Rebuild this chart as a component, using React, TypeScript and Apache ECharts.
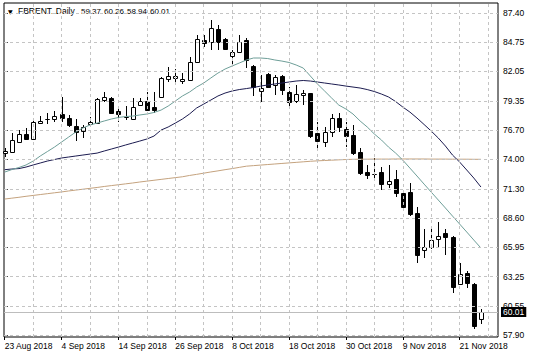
import React, { useEffect, useRef } from 'react';
import * as echarts from 'echarts';

const dateLabels = ['23 Aug 2018', '4 Sep 2018', '14 Sep 2018', '26 Sep 2018', '8 Oct 2018', '18 Oct 2018', '30 Oct 2018', '9 Nov 2018', '21 Nov 2018'];
const labelIdx = [0, 8, 16, 24, 32, 40, 48, 56, 64];
const gridIdx = [4, 8, 12, 16, 20, 24, 28, 32, 36, 40, 44, 48, 52, 56, 60, 64, 68];
const yTicks = [57.9, 60.55, 63.25, 65.95, 68.6, 71.3, 74.0, 76.7, 79.35, 82.05, 84.75, 87.4];

const opens = [74.60, 74.67, 75.58, 76.32, 75.86, 77.32, 77.69, 77.69, 78.15, 77.78,
  77.05, 76.59, 77.23, 77.32, 79.43, 79.61, 78.42, 77.87, 77.69, 78.97,
  79.34, 78.79, 79.71, 81.36, 81.45, 81.17, 81.26, 82.91, 84.93, 84.75,
  85.94, 85.02, 83.46, 83.83, 84.93, 82.55, 80.26, 81.81, 80.81, 81.63,
  80.16, 79.34, 79.89, 80.07, 76.41, 75.58, 76.50, 77.78, 76.77, 76.22,
  74.67, 72.83, 72.65, 72.83, 71.73, 72.19, 70.91, 71.00, 69.08, 65.69,
  65.96, 66.70, 67.25, 66.88, 62.57, 63.58, 62.57, 59.37];
const closes = [74.80, 75.77, 76.32, 75.86, 77.42, 77.51, 77.72, 77.97, 77.78, 77.14,
  76.50, 76.96, 77.42, 79.52, 79.71, 78.24, 78.15, 77.85, 78.79, 79.34,
  78.51, 78.51, 81.45, 81.63, 81.63, 81.36, 82.91, 85.02, 84.65, 86.03,
  84.75, 84.10, 83.83, 84.75, 83.10, 80.62, 80.53, 80.62, 81.54, 80.35,
  79.25, 79.98, 80.07, 76.13, 75.68, 76.50, 77.78, 76.96, 76.13, 74.57,
  72.74, 72.56, 72.62, 71.73, 72.01, 70.91, 69.63, 68.99, 65.23, 65.96,
  66.60, 66.97, 66.88, 62.30, 63.49, 62.66, 58.72, 60.01];
const lows = [74.21, 74.60, 75.49, 75.77, 75.77, 77.23, 77.23, 77.42, 77.42, 76.96,
  75.68, 75.95, 77.14, 77.30, 79.25, 78.15, 77.42, 77.60, 77.60, 78.88,
  78.42, 78.24, 79.60, 81.08, 80.81, 80.90, 81.17, 82.82, 84.29, 84.01,
  84.01, 84.01, 82.64, 83.74, 82.36, 79.80, 79.25, 80.55, 79.89, 79.89,
  78.61, 79.16, 78.97, 75.95, 75.03, 75.12, 76.04, 76.50, 75.12, 74.39,
  72.56, 72.19, 72.28, 71.18, 71.37, 70.54, 69.54, 68.80, 64.50, 64.95,
  65.78, 65.96, 65.23, 61.75, 62.48, 62.21, 58.45, 58.94];
const highs = [75.03, 76.41, 76.68, 76.87, 77.60, 77.97, 78.24, 78.42, 79.71, 78.06,
  77.69, 77.14, 77.87, 79.61, 80.16, 79.71, 78.88, 78.88, 79.61, 79.61,
  80.16, 80.16, 81.54, 82.45, 82.27, 81.90, 83.37, 85.39, 85.39, 86.76,
  86.30, 85.11, 84.01, 85.39, 85.11, 82.64, 81.72, 81.90, 81.72, 81.72,
  80.62, 80.81, 80.35, 80.10, 77.42, 76.96, 78.15, 78.24, 77.42, 77.14,
  75.03, 73.48, 74.12, 73.29, 73.48, 73.02, 71.00, 71.83, 69.63, 67.61,
  67.61, 68.25, 67.61, 66.95, 64.50, 63.76, 62.66, 60.26];

const maFast = [72.83, 73.06, 73.25, 73.48, 73.84, 74.30, 74.71, 75.12, 75.58, 76.04,
  76.50, 76.87, 77.14, 77.32, 77.51, 77.69, 77.83, 77.92, 77.96, 78.06,
  78.15, 78.29, 78.51, 78.88, 79.34, 79.80, 80.16, 80.62, 80.99, 81.45,
  81.90, 82.27, 82.55, 82.82, 83.10, 83.28, 83.28, 83.23, 83.10, 83.00,
  82.87, 82.64, 82.36, 81.63, 80.90, 80.26, 79.61, 78.97, 78.61, 78.15,
  77.51, 76.96, 76.32, 75.77, 75.12, 74.57, 73.93, 73.20, 72.47, 71.73,
  71.00, 70.27, 69.54, 68.80, 68.07, 67.34, 66.60, 65.87];
const maMid = [73.05, 73.11, 73.15, 73.29, 73.48, 73.66, 73.84, 73.98, 74.12, 74.21,
  74.30, 74.39, 74.48, 74.57, 74.76, 74.94, 75.12, 75.31, 75.49, 75.67,
  75.86, 76.13, 76.68, 76.96, 77.32, 77.69, 78.15, 78.70, 79.06, 79.43,
  79.80, 80.07, 80.26, 80.39, 80.48, 80.58, 80.71, 80.81, 80.90, 80.99,
  81.08, 81.17, 81.22, 81.17, 81.08, 80.99, 80.90, 80.81, 80.71, 80.62,
  80.53, 80.39, 80.21, 79.98, 79.71, 79.29, 78.79, 78.33, 77.78, 77.19,
  76.59, 75.95, 75.22, 74.39, 73.75, 73.02, 72.28, 71.46];
const maSlow = [70.36, 70.44, 70.52, 70.61, 70.69, 70.77, 70.85, 70.93, 71.01, 71.10,
  71.18, 71.26, 71.34, 71.42, 71.51, 71.59, 71.67, 71.75, 71.83, 71.92,
  72.00, 72.08, 72.16, 72.24, 72.32, 72.40, 72.52, 72.62, 72.73, 72.84,
  72.94, 73.05, 73.15, 73.26, 73.37, 73.42, 73.47, 73.52, 73.57, 73.62,
  73.67, 73.72, 73.77, 73.82, 73.86, 73.89, 73.92, 73.95, 73.98, 74.00,
  74.01, 74.01, 74.02, 74.02, 74.02, 74.03, 74.03, 74.03, 74.03, 74.03,
  74.02, 74.02, 74.02, 74.01, 74.01, 74.01, 74.00, 74.00];

const lastPrice = 60.01;
const symbolName = 'FBRENT..Daily';
const lastBar = ['59.37', '60.26', '58.94', '60.01'];

export default function App() {
  const ref = useRef<HTMLDivElement>(null);
  useEffect(() => {
    const chart = echarts.init(ref.current!, null, { renderer: 'svg' });
    const font = 'Liberation Sans';
    const fs = 8.5;
    const candleData = opens.map((o, i) => [i, o, closes[i], lows[i], highs[i]]);
    const asLine = (arr: number[]) => arr.map((v, i) => [i, v]);
    const lineSeries = (data: number[], color: string) => ({
      type: 'line', data: asLine(data), symbol: 'none', z: 4, silent: true,
      lineStyle: { color, width: 1 },
    });
    const titleStyle = { fill: '#000', fontFamily: font, verticalAlign: 'middle', align: 'left' };
    chart.setOption({
      animation: false,
      backgroundColor: '#fff',
      grid: { left: 4, right: 38, top: 3, bottom: 21, show: true, borderColor: '#000', borderWidth: 1, backgroundColor: 'transparent' },
      xAxis: {
        type: 'value', min: -0.1, max: 69.4,
        axisLine: { show: false }, splitLine: { show: false },
        axisTick: { show: true, customValues: labelIdx, length: 3, lineStyle: { color: '#000' } },
        axisLabel: {
          customValues: labelIdx,
          formatter: (v: number) => { const k = labelIdx.indexOf(Math.round(v)); return k >= 0 ? dateLabels[k] : ''; },
          align: 'left', margin: 4, color: '#000', fontSize: fs, fontFamily: font,
        },
      },
      yAxis: {
        type: 'value', position: 'right', min: 57.72, max: 88.32,
        axisLine: { show: false }, splitLine: { show: false },
        axisTick: { show: true, customValues: yTicks, length: 3, lineStyle: { color: '#000' } },
        axisLabel: {
          customValues: yTicks, formatter: (v: number) => v.toFixed(2),
          margin: 5, color: '#000', fontSize: fs, fontFamily: font,
        },
      },
      graphic: [
        { type: 'text', x: 8, y: 11, style: { text: '▼', fontSize: 6, fill: '#000', fontFamily: 'DejaVu Sans', verticalAlign: 'middle', align: 'left' } },
        { type: 'text', x: 18, y: 11, style: { ...titleStyle, fontSize: 8.5, text: symbolName } },
        ...lastBar.map((t, k) => ({ type: 'text', x: 81 + 23 * k, y: 11, style: { ...titleStyle, fontSize: 8, text: t } })),
      ],
      series: [
        {
          type: 'line', data: [], z: 1, silent: true,
          markLine: {
            symbol: 'none', silent: true, label: { show: false },
            lineStyle: { color: '#c4c4c4', type: [3, 3], width: 1 },
            data: [...yTicks.map((v) => ({ yAxis: v })), ...gridIdx.map((i) => ({ xAxis: i }))],
          },
        },
        {
          type: 'line', data: [], z: 2, silent: true,
          markLine: {
            symbol: 'none', silent: true,
            lineStyle: { color: '#bdbdbd', type: 'solid', width: 1 },
            label: {
              show: true, position: 'end', formatter: lastPrice.toFixed(2), distance: 3,
              color: '#fff', backgroundColor: '#000', padding: [1, 2, 0, 2],
              fontSize: fs, fontFamily: font,
            },
            data: [{ yAxis: lastPrice }],
          },
        },
        {
          type: 'custom', z: 3, silent: true, data: candleData, encode: { x: 0, y: [1, 2, 3, 4] },
          renderItem: (params: any, api: any) => {
            const i = api.value(0);
            const o = api.value(1), c = api.value(2), l = api.value(3), h = api.value(4);
            const pO = api.coord([i, o]);
            const pC = api.coord([i, c]);
            const pL = api.coord([i, l]);
            const pH = api.coord([i, h]);
            const cx = Math.round(pO[0]) + 0.5;
            const bw = 4;
            const top = Math.round(Math.min(pO[1], pC[1])) + 0.5;
            const bot = Math.round(Math.max(pO[1], pC[1])) + 0.5;
            return {
              type: 'group',
              children: [
                { type: 'line', shape: { x1: cx, y1: Math.round(pH[1]), x2: cx, y2: Math.round(pL[1]) }, style: { stroke: '#000', lineWidth: 1 } },
                { type: 'rect', shape: { x: cx - bw / 2, y: top, width: bw, height: Math.max(bot - top, 0) }, style: { fill: c >= o ? '#fff' : '#000', stroke: '#000', lineWidth: 1 } },
              ],
            };
          },
        },
        lineSeries(maSlow, '#c4a27e'),
        lineSeries(maMid, '#1c1c50'),
        lineSeries(maFast, '#6e9e98'),
      ],
    });
    return () => chart.dispose();
  }, []);
  return <div ref={ref} style={{ position: 'fixed', left: 0, top: 0, width: 536, height: 358 }} />;
}
